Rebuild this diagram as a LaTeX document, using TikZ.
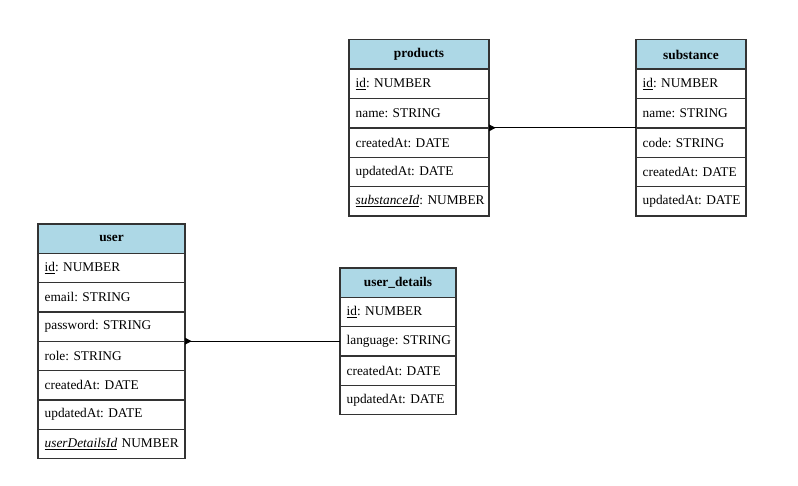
\documentclass[tikz,border=0pt]{standalone}
\usepackage{fontspec}
\setmainfont{Liberation Serif}
\usepackage{xcolor}
\usepackage{tikz}
\usetikzlibrary{positioning,arrows.meta}
\definecolor{headblue}{HTML}{ADD8E6}
\definecolor{frame}{HTML}{333333}
\frenchspacing

\begin{document}
\begin{tikzpicture}[
    x=0.75pt, y=-0.75pt,
    head/.style={rectangle, draw=frame, line width=1pt, fill=headblue, minimum width=#1, minimum height=22pt, inner sep=0pt, outer sep=0pt, font=\fontsize{10}{12}\selectfont\bfseries},
    field/.style={rectangle, draw=frame, line width=1pt, fill=white, text width=#1, minimum height=22pt, inner xsep=1pt, inner ysep=0pt, outer sep=0pt, align=left, font=\fontsize{10}{12}\selectfont\frenchspacing, execute at begin node={\hspace*{4pt}}},
    link/.style={{Triangle[reversed, length=5pt, width=5pt]}-, line width=0.8pt, black}
]
\useasboundingbox (0,0) rectangle (798,485);

% products
\node[head=105pt] (products) at (419,54.5) {products};
\node[field=103pt, below=0pt of products] (prodId) {\underline{id}: NUMBER};
\node[field=103pt, below=0pt of prodId] (prodName) {name: STRING};
\node[field=103pt, below=0pt of prodName] (prodCreated) {createdAt: DATE};
\node[field=103pt, below=0pt of prodCreated] (prodUpdated) {updatedAt: DATE};
\node[field=103pt, below=0pt of prodUpdated] (prodSubst) {\textit{\underline{substanceId}}: NUMBER};

% substance
\node[head=82.5pt] (substance) at (691,54.5) {substance};
\node[field=80.5pt, below=0pt of substance] (subId) {\underline{id}: NUMBER};
\node[field=80.5pt, below=0pt of subId] (subName) {name: STRING};
\node[field=80.5pt, below=0pt of subName] (subCode) {code: STRING};
\node[field=80.5pt, below=0pt of subCode] (subCreated) {createdAt: DATE};
\node[field=80.5pt, below=0pt of subCreated] (subUpdated) {updatedAt: DATE};

% user
\node[head=110.25pt] (user) at (111.5,238.5) {user};
\node[field=108.25pt, below=0pt of user] (userId) {\underline{id}: NUMBER};
\node[field=108.25pt, below=0pt of userId] (userEmail) {email: STRING};
\node[field=108.25pt, below=0pt of userEmail] (userPass) {password: STRING};
\node[field=108.25pt, below=0pt of userPass] (userRole) {role: STRING};
\node[field=108.25pt, below=0pt of userRole] (userCreated) {createdAt: DATE};
\node[field=108.25pt, below=0pt of userCreated] (userUpdated) {updatedAt: DATE};
\node[field=108.25pt, below=0pt of userUpdated] (userDetId) {\textit{\underline{userDetailsId}} NUMBER};

% user_details
\node[head=87pt] (details) at (398,282.5) {user\_details};
\node[field=85pt, below=0pt of details] (detId) {\underline{id}: NUMBER};
\node[field=85pt, below=0pt of detId] (detLang) {language: STRING};
\node[field=85pt, below=0pt of detLang] (detCreated) {createdAt: DATE};
\node[field=85pt, below=0pt of detCreated] (detUpdated) {updatedAt: DATE};

% relations
\draw[link] (prodName.south east) -- (subName.south west);
\draw[link] (userPass.south east) -- (userPass.south east -| detLang.west);

\end{tikzpicture}
\end{document}
